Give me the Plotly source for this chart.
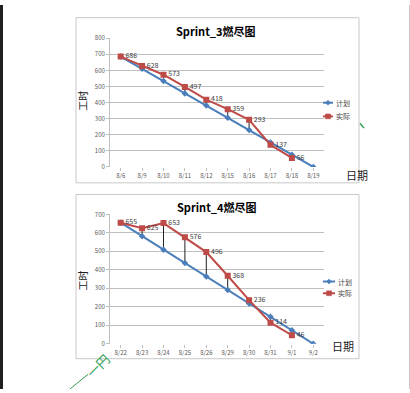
import plotly.graph_objects as go

# ---- data ----
s3_dates = ["8/6", "8/9", "8/10", "8/11", "8/12", "8/15", "8/16", "8/17", "8/18", "8/19"]
s3_plan = [686, 610, 534, 457, 381, 305, 229, 152, 76, 0]
s3_actual = [686, 628, 573, 497, 418, 359, 293, 137, 56, None]

s4_dates = ["8/22", "8/23", "8/24", "8/25", "8/26", "8/29", "8/30", "8/31", "9/1", "9/2"]
s4_plan = [655, 582, 509, 437, 364, 291, 218, 146, 73, 0]
s4_actual = [655, 625, 653, 576, 496, 368, 236, 114, 46, None]

W, H = 410, 393
BLUE = "#4a7ebb"
RED = "#be4b48"
GRID = "#bfbfbf"
TXT = "#404040"
FONT = "Noto Sans CJK SC, Liberation Sans, sans-serif"


def px(x):
    return x / W


def py(y):
    return 1 - y / H


fig = go.Figure()


def add_chart(dates, plan, actual, xa, ya):
    # high-low lines between plan and actual
    hx, hy = [], []
    for d, p, a in zip(dates, plan, actual):
        if a is None:
            continue
        hx += [d, d, None]
        hy += [p, a, None]
    fig.add_trace(go.Scatter(x=hx, y=hy, mode="lines", xaxis=xa, yaxis=ya,
                             line=dict(color="#222222", width=1), showlegend=False,
                             hoverinfo="skip"))
    fig.add_trace(go.Scatter(x=dates, y=plan, mode="lines+markers", name="计划",
                             xaxis=xa, yaxis=ya, showlegend=False,
                             line=dict(color=BLUE, width=2),
                             marker=dict(symbol="diamond", size=5, color=BLUE)))
    fig.add_trace(go.Scatter(x=dates, y=actual, mode="lines+markers+text", name="实际",
                             xaxis=xa, yaxis=ya, showlegend=False,
                             text=[("" if a is None else str(a)) for a in actual],
                             textposition="middle right",
                             textfont=dict(size=7, color=TXT, family=FONT),
                             line=dict(color=RED, width=2),
                             marker=dict(symbol="square", size=6, color=RED)))


add_chart(s3_dates, s3_plan, s3_actual, "x", "y")
add_chart(s4_dates, s4_plan, s4_actual, "x2", "y2")

axis_common = dict(showgrid=False, showline=False, ticks="outside", ticklen=3,
                   tickcolor=GRID, tickfont=dict(size=6, color="#595959", family=FONT),
                   zeroline=False)
yaxis_common = dict(showgrid=True, gridcolor=GRID, gridwidth=1, showline=True,
                    linecolor=GRID, ticks="outside", ticklen=3, tickcolor=GRID,
                    tickfont=dict(size=6, color="#595959", family=FONT),
                    zeroline=False, dtick=100)

fig.update_layout(
    width=W, height=H, margin=dict(l=0, r=0, t=0, b=0),
    paper_bgcolor="white", plot_bgcolor="white", showlegend=False,
    font=dict(family=FONT),
    xaxis=dict(domain=[px(110), px(324)], anchor="y", type="category",
               range=[-0.5, 9.5], **axis_common),
    yaxis=dict(domain=[py(165.7), py(34)], anchor="x", range=[0, 800], **yaxis_common),
    xaxis2=dict(domain=[px(110), px(324)], anchor="y2", type="category",
                range=[-0.5, 9.5], **axis_common),
    yaxis2=dict(domain=[py(346.7), py(214.3)], anchor="x2", range=[0, 700], **yaxis_common),
)

shapes = []
annos = []


def note(text, x, y, size, color, angle=0, xanchor="center"):
    annos.append(dict(text=text, x=px(x), y=py(y), xref="paper", yref="paper",
                      xanchor=xanchor, yanchor="middle", showarrow=False, textangle=angle,
                      font=dict(size=size, color=color, family=FONT)))


# chart frames
for (x0, y0, x1, y1) in [(76, 13, 359, 182), (76, 194, 359, 362)]:
    shapes.append(dict(type="rect", xref="paper", yref="paper",
                       x0=px(x0), x1=px(x1), y0=py(y1), y1=py(y0),
                       line=dict(color="#c8c8c8", width=1), fillcolor="rgba(0,0,0,0)"))
# page edge lines
shapes.append(dict(type="line", xref="paper", yref="paper", x0=px(1.5), x1=px(1.5),
                   y0=0, y1=1, line=dict(color="#202020", width=3)))
shapes.append(dict(type="line", xref="paper", yref="paper", x0=px(409.5), x1=px(409.5),
                   y0=0, y1=1, line=dict(color="#c8c8c8", width=1)))

# titles
note("<b>Sprint_3燃尽图</b>", 216, 27, 11, "#000000")
note("<b>Sprint_4燃尽图</b>", 217, 207, 11, "#000000")
# axis titles
note("工时", 83, 98, 10, "#202020", angle=-90)
note("工时", 83, 282, 10, "#202020", angle=-90)
note("日期", 357, 174, 11, "#202020")
note("日期", 343, 349, 11, "#202020")


# manual legends (line + marker + label)
def legend(x0, x1, y, color, symbol, label):
    shapes.append(dict(type="line", xref="paper", yref="paper", x0=px(x0), x1=px(x1),
                       y0=py(y), y1=py(y), line=dict(color=color, width=2)))
    cx = (x0 + x1) / 2
    s = 2.5
    if symbol == "diamond":
        path = "M {} {} L {} {} L {} {} L {} {} Z".format(
            px(cx), py(y - s), px(cx + s), py(y), px(cx), py(y + s), px(cx - s), py(y))
        shapes.append(dict(type="path", xref="paper", yref="paper", path=path,
                           fillcolor=color, line=dict(color=color, width=0.5)))
    else:
        shapes.append(dict(type="rect", xref="paper", yref="paper",
                           x0=px(cx - s), x1=px(cx + s), y0=py(y + s), y1=py(y - s),
                           fillcolor=color, line=dict(color=color, width=0.5)))
    note(label, x1 + 1, y, 7, TXT, xanchor="left")


legend(323, 333, 100, BLUE, "diamond", "计划")
legend(323, 333, 114, RED, "square", "实际")
legend(323, 335, 283, BLUE, "diamond", "计划")
legend(323, 335, 295, RED, "square", "实际")

# green watermark fragments
note("一円", 98, 369, 13, "#2e9e52", angle=-45)
shapes.append(dict(type="line", xref="paper", yref="paper", x0=px(70), x1=px(88),
                   y0=py(393), y1=py(378), line=dict(color="#2e9e52", width=1)))
shapes.append(dict(type="line", xref="paper", yref="paper", x0=px(360), x1=px(364),
                   y0=py(121), y1=py(126), line=dict(color="#2e9e52", width=1.5)))

fig.update_layout(shapes=shapes, annotations=annos)
fig.write_html("out.html", config={"displayModeBar": False},
               post_script="document.body.style.margin='0';document.body.style.overflow='hidden';")
